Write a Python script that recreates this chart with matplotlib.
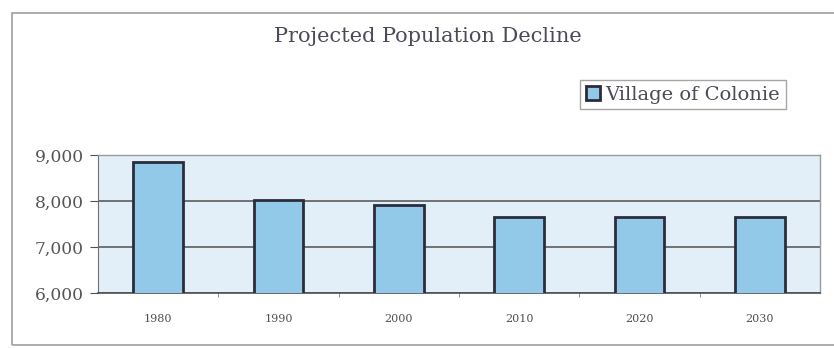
import matplotlib
matplotlib.use("Agg")
import matplotlib.pyplot as plt
from matplotlib.patches import Rectangle

years = ["1980", "1990", "2000", "2010", "2020", "2030"]
population = [8850, 8020, 7920, 7660, 7660, 7660]
series_name = "Village of Colonie"
title = "Projected Population Decline"
yticks = [6000, 7000, 8000, 9000]

plt.rcParams['font.family'] = ['DejaVu Serif']

fig = plt.figure(figsize=(8.34, 3.48), dpi=100)
fig.patch.set_facecolor('white')

# outer frame (runs off the right edge as in the reference)
fig.patches.append(Rectangle((12/834, 3/348), 840/834, 332/348, transform=fig.transFigure,
                             fill=False, edgecolor='#a0a0a0', linewidth=1.2))

ax = fig.add_axes([98/834, 55/348, 722/834, 138/348])
ax.set_facecolor('#e3eff8')
x = list(range(len(years)))
ax.bar(x, population, width=0.415, color='#92c8e8', edgecolor='#2a2c3c',
       linewidth=2, label=series_name, zorder=3)
ax.set_xlim(-0.5, len(years) - 0.5)
ax.set_ylim(6000, 9000)
ax.set_yticks(yticks)
ax.set_yticklabels([f"{v:,}" for v in yticks], fontsize=12.3, color='#555555')
ax.yaxis.grid(True, color='#505050', linewidth=1.1, zorder=1)
ax.set_xticks(x)
ax.set_xticklabels(years, fontsize=8, color='#505050')
ax.set_xticks([i + 0.5 for i in range(len(years) - 1)], minor=True)
ax.tick_params(axis='x', which='major', length=0, pad=15)
ax.tick_params(axis='x', which='minor', length=3, color='#777777')
ax.tick_params(axis='y', length=6, color='#505050', pad=4)
for s in ['top', 'right']:
    ax.spines[s].set_color('#9a9a9a')
    ax.spines[s].set_linewidth(1)
ax.spines['left'].set_color('#707070')
ax.spines['bottom'].set_color('#505050')
ax.spines['bottom'].set_linewidth(1.2)

fig.text(428/834, 1 - 36/348, title, ha='center', va='center', fontsize=15, color='#4a4a5a')

leg = fig.legend(loc='center', bbox_to_anchor=(581/834, 1 - 113/348, 204/834, 37/348),
                 fontsize=14, frameon=True, fancybox=False, edgecolor='#909090',
                 handlelength=0.7, handleheight=0.7, handletextpad=0.3, borderpad=0.3,
                 labelcolor='#4a4a5a')
leg.get_frame().set_linewidth(1)

fig.savefig("out.png", dpi=100)
